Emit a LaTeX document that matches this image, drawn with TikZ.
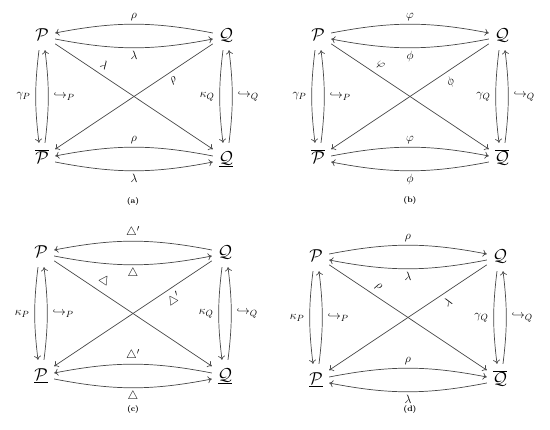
\documentclass[tikz,border=0pt]{standalone}
\usetikzlibrary{arrows.meta}
\tikzset{
  obj/.style={inner sep=0pt, minimum width=26pt, minimum height=30pt, text height=11pt, text depth=0pt, font=\fontsize{16}{18}\selectfont},
  lab/.style={font=\fontsize{13}{15}\selectfont, inner sep=3pt},
  vlab/.style={lab, inner sep=5pt},
  dlab/.style={lab, sloped, pos=.28, inner sep=5pt},
  arr/.style={-{To[length=4pt,width=7pt]}, line width=0.7pt, draw=black!72},
  hb/.style={bend left=11},
  hbr/.style={bend right=11},
  captxt/.style={font=\fontsize{8}{9}\selectfont\bfseries, inner sep=0pt}
}
\begin{document}
\begin{tikzpicture}[x=1pt,y=1pt]
\useasboundingbox (0,0) rectangle (550,-430);
% ---------------- (a)
\begin{scope}[shift={(42,-35)}]
\node[obj] (aP) at (0,0) {$\mathcal{P}$};
\node[obj] (aQ) at (184,0) {$\mathcal{Q}$};
\node[obj] (aPb) at (0,-123) {$\overline{\mathcal{P}}$};
\node[obj] (aQb) at (184,-123) {$\underline{\mathcal{Q}}$};
\draw[arr] ([yshift=2pt]aQ.west) to[hbr] node[lab,above]{$\rho$} ([yshift=2pt]aP.east);
\draw[arr] ([yshift=-4pt]aP.east) to[hbr] node[lab,below]{$\lambda$} ([yshift=-4pt]aQ.west);
\draw[arr] ([yshift=2pt]aQb.west) to[hbr] node[lab,above]{$\rho$} ([yshift=2pt]aPb.east);
\draw[arr] ([yshift=-4pt]aPb.east) to[hbr] node[lab,below]{$\lambda$} ([yshift=-4pt]aQb.west);
\draw[arr] (aP) -- node[dlab,above]{$\lambda$} (aQb);
\draw[arr] (aQ) -- node[dlab,below]{$\rho$} (aPb);
\draw[arr] ([xshift=-3pt]aP.south) to[bend right=7] node[vlab,left]{$\gamma_P$} ([xshift=-3pt]aPb.north);
\draw[arr] ([xshift=3pt]aPb.north) to[bend right=7] node[vlab,right]{$\hookrightarrow_P$} ([xshift=3pt]aP.south);
\draw[arr] ([xshift=-3pt]aQ.south) to[bend right=7] node[vlab,left]{$\kappa_Q$} ([xshift=-3pt]aQb.north);
\draw[arr] ([xshift=3pt]aQb.north) to[bend right=7] node[vlab,right]{$\hookrightarrow_Q$} ([xshift=3pt]aQ.south);
\node[captxt] (acap) at (91,-167) {(a)};
\end{scope}
% ---------------- (b)
\begin{scope}[shift={(318,-35)}]
\node[obj] (bP) at (0,0) {$\mathcal{P}$};
\node[obj] (bQ) at (184,0) {$\mathcal{Q}$};
\node[obj] (bPb) at (0,-123) {$\overline{\mathcal{P}}$};
\node[obj] (bQb) at (184,-123) {$\overline{\mathcal{Q}}$};
\draw[arr] ([yshift=2pt]bP.east) to[hb] node[lab,above]{$\varphi$} ([yshift=2pt]bQ.west);
\draw[arr] ([yshift=-4pt]bQ.west) to[hb] node[lab,below]{$\phi$} ([yshift=-4pt]bP.east);
\draw[arr] ([yshift=2pt]bPb.east) to[hb] node[lab,above]{$\varphi$} ([yshift=2pt]bQb.west);
\draw[arr] ([yshift=-4pt]bQb.west) to[hb] node[lab,below]{$\phi$} ([yshift=-4pt]bPb.east);
\draw[arr] (bP) -- node[dlab,above]{$\varphi$} (bQb);
\draw[arr] (bQ) -- node[dlab,below]{$\phi$} (bPb);
\draw[arr] ([xshift=-3pt]bP.south) to[bend right=7] node[vlab,left]{$\gamma_P$} ([xshift=-3pt]bPb.north);
\draw[arr] ([xshift=3pt]bPb.north) to[bend right=7] node[vlab,right]{$\hookrightarrow_P$} ([xshift=3pt]bP.south);
\draw[arr] ([xshift=-3pt]bQ.south) to[bend right=7] node[vlab,left]{$\gamma_Q$} ([xshift=-3pt]bQb.north);
\draw[arr] ([xshift=3pt]bQb.north) to[bend right=7] node[vlab,right]{$\hookrightarrow_Q$} ([xshift=3pt]bQ.south);
\node[captxt] (bcap) at (92,-166) {(b)};
\end{scope}
% ---------------- (c)
\begin{scope}[shift={(41,-252)}]
\node[obj] (cP) at (0,0) {$\mathcal{P}$};
\node[obj] (cQ) at (184,0) {$\mathcal{Q}$};
\node[obj] (cPb) at (0,-123) {$\underline{\mathcal{P}}$};
\node[obj] (cQb) at (184,-123) {$\underline{\mathcal{Q}}$};
\draw[arr] ([yshift=2pt]cQ.west) to[hbr] node[lab,above]{$\triangle'$} ([yshift=2pt]cP.east);
\draw[arr] ([yshift=-4pt]cP.east) to[hbr] node[lab,below]{$\triangle$} ([yshift=-4pt]cQ.west);
\draw[arr] ([yshift=2pt]cQb.west) to[hbr] node[lab,above]{$\triangle'$} ([yshift=2pt]cPb.east);
\draw[arr] ([yshift=-4pt]cPb.east) to[hbr] node[lab,below]{$\triangle$} ([yshift=-4pt]cQb.west);
\draw[arr] (cP) -- node[dlab,above]{$\triangle$} (cQb);
\draw[arr] (cQ) -- node[dlab,below]{$\triangle'$} (cPb);
\draw[arr] ([xshift=-3pt]cP.south) to[bend right=7] node[vlab,left]{$\kappa_P$} ([xshift=-3pt]cPb.north);
\draw[arr] ([xshift=3pt]cPb.north) to[bend right=7] node[vlab,right]{$\hookrightarrow_P$} ([xshift=3pt]cP.south);
\draw[arr] ([xshift=-3pt]cQ.south) to[bend right=7] node[vlab,left]{$\kappa_Q$} ([xshift=-3pt]cQb.north);
\draw[arr] ([xshift=3pt]cQb.north) to[bend right=7] node[vlab,right]{$\hookrightarrow_Q$} ([xshift=3pt]cQ.south);
\node[captxt] (ccap) at (92,-158) {(c)};
\end{scope}
% ---------------- (d)
\begin{scope}[shift={(316,-256)}]
\node[obj] (dP) at (0,0) {$\mathcal{P}$};
\node[obj] (dQ) at (184,0) {$\mathcal{Q}$};
\node[obj] (dPb) at (0,-123) {$\underline{\mathcal{P}}$};
\node[obj] (dQb) at (184,-123) {$\overline{\mathcal{Q}}$};
\draw[arr] ([yshift=2pt]dP.east) to[hb] node[lab,above]{$\rho$} ([yshift=2pt]dQ.west);
\draw[arr] ([yshift=-4pt]dQ.west) to[hb] node[lab,below]{$\lambda$} ([yshift=-4pt]dP.east);
\draw[arr] ([yshift=2pt]dPb.east) to[hb] node[lab,above]{$\rho$} ([yshift=2pt]dQb.west);
\draw[arr] ([yshift=-4pt]dQb.west) to[hb] node[lab,below]{$\lambda$} ([yshift=-4pt]dPb.east);
\draw[arr] (dP) -- node[dlab,above]{$\rho$} (dQb);
\draw[arr] (dQ) -- node[dlab,below]{$\lambda$} (dPb);
\draw[arr] ([xshift=-3pt]dP.south) to[bend right=7] node[vlab,left]{$\kappa_P$} ([xshift=-3pt]dPb.north);
\draw[arr] ([xshift=3pt]dPb.north) to[bend right=7] node[vlab,right]{$\hookrightarrow_P$} ([xshift=3pt]dP.south);
\draw[arr] ([xshift=-3pt]dQ.south) to[bend right=7] node[vlab,left]{$\gamma_Q$} ([xshift=-3pt]dQb.north);
\draw[arr] ([xshift=3pt]dQb.north) to[bend right=7] node[vlab,right]{$\hookrightarrow_Q$} ([xshift=3pt]dQ.south);
\node[captxt] (dcap) at (94,-154) {(d)};
\end{scope}
\end{tikzpicture}
\end{document}
